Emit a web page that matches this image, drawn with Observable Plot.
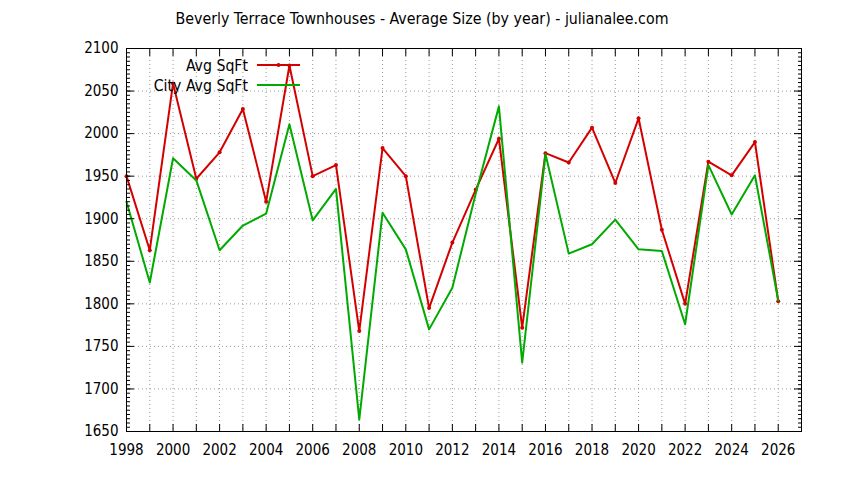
<!DOCTYPE html>
<html>
<head>
<meta charset="utf-8">
<script src="https://cdn.jsdelivr.net/npm/d3@7"></script>
<script src="https://cdn.jsdelivr.net/npm/@observablehq/plot@0.6"></script>
<style>
  html, body { margin: 0; padding: 0; background: #fff; }
  #wrap { position: relative; width: 844px; height: 480px; font-family: "DejaVu Sans Condensed", "DejaVu Sans", sans-serif; font-stretch: condensed; color: #000; }
  #title { height: 36px; line-height: 37px; text-align: center; font-size: 15.8px; }
  #legend { position: absolute; left: 0; top: 55px; font-size: 15.7px; }
  .row { height: 20px; display: flex; align-items: center; }
  .row span { display: inline-block; width: 248px; text-align: right; }
  .row svg { margin-left: 9px; }
</style>
</head>
<body>
<div id="wrap">
  <div id="title">Beverly Terrace Townhouses - Average Size (by year) - julianalee.com</div>
  <div id="chart"></div>
  <div id="legend"></div>
</div>
<script>
const years = [1998,1999,2000,2001,2002,2003,2004,2005,2006,2007,2008,2009,2010,2011,2012,2013,2014,2015,2016,2017,2018,2019,2020,2021,2022,2023,2024,2025,2026];
const avgSqFt = [1950,1863,2059,1947,1978,2029,1920,2080,1950,1963,1768,1983,1950,1795,1872,1934,1994,1772,1977,1966,2007,1942,2018,1887,1800,1967,1951,1990,1803];
const cityAvgSqFt = [1920,1825,1971,1945,1863,1892,1906,2011,1898,1935,1664,1907,1864,1770,1819,1929,2032,1731,1976,1859,1870,1899,1864,1862,1776,1963,1905,1951,1804];
const seriesNames = ["Avg SqFt", "City Avg SqFt"];
const seriesColors = ["#d40000", "#00aa00"];
const xLabelTicks = [1998,2000,2002,2004,2006,2008,2010,2012,2014,2016,2018,2020,2022,2024,2026];
const yLabelTicks = [1650,1700,1750,1800,1850,1900,1950,2000,2050,2100];

const redData = years.map((y, i) => ({year: y, value: avgSqFt[i]}));
const greenData = years.map((y, i) => ({year: y, value: cityAvgSqFt[i]}));
const xTicksAll = d3.range(1998, 2028, 1);
const yMinor = d3.range(1650, 2101, 5);
const gridStyle = {stroke: "#999", strokeOpacity: 1, strokeDasharray: "1,3", strokeWidth: 1};

const chart = Plot.plot({
  width: 844,
  height: 444,
  marginTop: 12,
  marginBottom: 49,
  marginLeft: 126,
  marginRight: 43,
  style: {fontFamily: "'DejaVu Sans Condensed', 'DejaVu Sans', sans-serif", fontSize: "15px", fontStretch: "condensed", color: "#000", background: "#fff", overflow: "visible"},
  x: {domain: [1998, 2027], label: null},
  y: {domain: [1650, 2100], label: null},
  marks: [
    Plot.gridX(xTicksAll.filter(d => d > 1998 && d < 2027), gridStyle),
    Plot.gridY(yLabelTicks.filter(d => d > 1650 && d < 2100), gridStyle),
    Plot.line(redData, {x: "year", y: "value", stroke: seriesColors[0], strokeWidth: 2}),
    Plot.dot(redData, {x: "year", y: "value", fill: seriesColors[0], r: 2}),
    Plot.line(greenData, {x: "year", y: "value", stroke: seriesColors[1], strokeWidth: 2}),
    Plot.frame({stroke: "#000", strokeWidth: 1}),
    // inward ticks
    Plot.axisX(xTicksAll, {anchor: "bottom", tickSize: 7, dy: -7, fill: "none", label: null}),
    Plot.axisX(xTicksAll, {anchor: "top", tickSize: 7, dy: 7, fill: "none", label: null}),
    Plot.axisY(yLabelTicks, {anchor: "left", tickSize: 8, dx: 8, fill: "none", label: null}),
    Plot.axisY(yLabelTicks, {anchor: "right", tickSize: 8, dx: -8, fill: "none", label: null}),
    Plot.axisY(yMinor, {anchor: "left", tickSize: 4, dx: 4, fill: "none", label: null}),
    Plot.axisY(yMinor, {anchor: "right", tickSize: 4, dx: -4, fill: "none", label: null}),
    // labels
    Plot.axisX(xLabelTicks, {anchor: "bottom", tickSize: 0, tickPadding: 13, tickFormat: d => String(d), label: null}),
    Plot.axisY(yLabelTicks, {anchor: "left", tickSize: 0, tickPadding: 8, tickFormat: d => String(d), label: null})
  ]
});
document.getElementById("chart").appendChild(chart);

const legend = document.getElementById("legend");
seriesNames.forEach((name, i) => {
  const row = document.createElement("div");
  row.className = "row";
  const span = document.createElement("span");
  span.textContent = name;
  row.appendChild(span);
  const svg = d3.create("svg").attr("width", 43).attr("height", 20);
  svg.append("line").attr("x1", 0).attr("x2", 43).attr("y1", 10).attr("y2", 10)
    .attr("stroke", seriesColors[i]).attr("stroke-width", 2);
  if (i === 0) svg.append("circle").attr("cx", 21.5).attr("cy", 10).attr("r", 2).attr("fill", seriesColors[i]);
  row.appendChild(svg.node());
  legend.appendChild(row);
});
</script>
</body>
</html>
